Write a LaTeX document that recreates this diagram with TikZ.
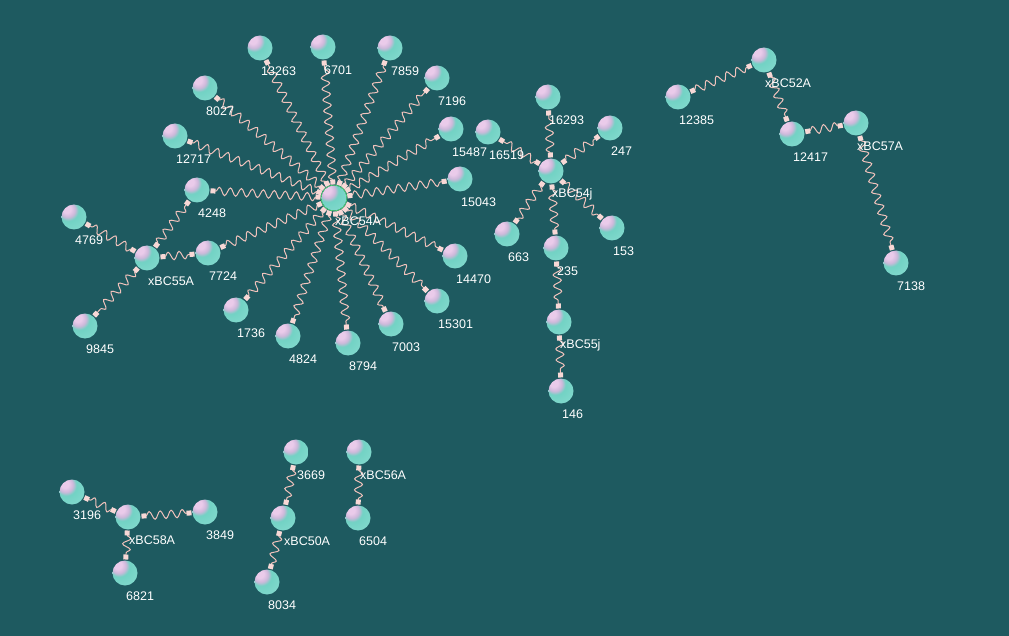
\documentclass[tikz,border=0pt]{standalone}
\usepackage{fontspec}
\setmainfont{Liberation Sans}
\usetikzlibrary{decorations.pathmorphing,decorations.markings,calc}
\definecolor{bgcol}{HTML}{1E5A60}
\definecolor{springcol}{HTML}{F0C2BC}
\definecolor{endcol}{HTML}{F8D8D6}
\definecolor{hlA}{HTML}{EACBEA}
\definecolor{hlB}{HTML}{CDB8DA}
\definecolor{bodyA}{HTML}{72D2C4}
\definecolor{bodyB}{HTML}{84DACE}
\definecolor{bodyC}{HTML}{C0F2EC}
\pgfdeclareradialshading{ballsh}{\pgfpoint{-16bp}{18bp}}{%
  color(0bp)=(hlA); color(8bp)=(hlA); color(15bp)=(hlB); color(21bp)=(bodyA);
  color(42bp)=(bodyB); color(68bp)=(bodyC); color(80bp)=(bodyC)}
\tikzset{
  sphere/.style={circle, minimum size=25pt, inner sep=0pt, outer sep=3.5pt, shading=ballsh},
  lab/.style={text=white, font=\fontsize{12.5}{14}\selectfont, inner sep=0pt, anchor=west},
  springline/.style={
    preaction={draw=springcol, line width=1pt, decorate,
      decoration={snake, segment length=11pt, amplitude=4pt, pre length=2pt, post length=2pt}},
    postaction={decorate, decoration={markings,
      mark=at position 0 with {\fill[endcol] (-2.5pt,-2.5pt) rectangle (2.5pt,2.5pt);},
      mark=at position 0.9999 with {\fill[endcol] (-2.5pt,-2.5pt) rectangle (2.5pt,2.5pt);}}}}
}
\newcommand\bn[4]{%
  \node[sphere] (#1) at (#2,#3) {};
}
\newcommand\bl[2]{%
  \node[lab] (#1-l) at ($(#1)+(1,23)$) {#2};
}
\newcommand\spr[2]{\path[springline] (#1) -- (#2);}
\begin{document}
\begin{tikzpicture}[x=1pt,y=-1pt]
\fill[bgcol] (0,0) rectangle (1009,636);
\useasboundingbox (0,0) rectangle (1009,636);
% balls
\bn{A54}{334}{198}{}
\bn{n13263}{260}{48}{}
\bn{n6701}{323}{47}{}
\bn{n7859}{390}{48}{}
\bn{n7196}{437}{78}{}
\bn{n8027}{205}{88}{}
\bn{n15487}{451}{129}{}
\bn{n12717}{175}{136}{}
\bn{n4248}{197}{190}{}
\bn{n15043}{460}{179}{}
\bn{n4769}{74}{217}{}
\bn{A55}{147}{258}{}
\bn{n7724}{208}{253}{}
\bn{n14470}{455}{256}{}
\bn{n9845}{85}{326}{}
\bn{n1736}{236}{310}{}
\bn{n4824}{288}{336}{}
\bn{n8794}{348}{343}{}
\bn{n7003}{391}{324}{}
\bn{n15301}{437}{301}{}
\bn{n16293}{548}{97}{}
\bn{n247}{610}{128}{}
\bn{n16519}{488}{132}{}
\bn{J54}{551}{171}{}
\bn{n663}{507}{234}{}
\bn{n153}{612}{228}{}
\bn{n235}{556}{248}{}
\bn{J55}{559}{322}{}
\bn{n146}{561}{391}{}
\bn{n12385}{678}{97}{}
\bn{A52}{764}{60}{}
\bn{n12417}{792}{134}{}
\bn{A57}{856}{123}{}
\bn{n7138}{896}{263}{}
\bn{n3196}{72}{492}{}
\bn{A58}{128}{517}{}
\bn{n3849}{205}{512}{}
\bn{n6821}{125}{573}{}
\bn{n3669}{296}{452}{}
\bn{A50}{283}{518}{}
\bn{n8034}{267}{582}{}
\bn{A56}{359}{452}{}
\bn{n6504}{358}{518}{}
\draw[green!60!teal!70, line width=0.6pt] (A54) circle (13pt);
% springs
\foreach \t in {n13263,n6701,n7859,n7196,n8027,n15487,n12717,n4248,n15043,n7724,n14470,n1736,n4824,n8794,n7003,n15301}
  {\spr{A54}{\t}}
\foreach \t in {n4769,n4248,n7724,n9845} {\spr{A55}{\t}}
\foreach \t in {n16293,n247,n16519,n663,n153,n235} {\spr{J54}{\t}}
\spr{n235}{J55}
\spr{J55}{n146}
\spr{n12385}{A52}
\spr{A52}{n12417}
\spr{n12417}{A57}
\spr{A57}{n7138}
\foreach \t in {n3196,n3849,n6821} {\spr{A58}{\t}}
\spr{n3669}{A50}
\spr{A50}{n8034}
\spr{A56}{n6504}
% labels
\bl{A54}{xBC54A}
\bl{n13263}{13263}
\bl{n6701}{6701}
\bl{n7859}{7859}
\bl{n7196}{7196}
\bl{n8027}{8027}
\bl{n15487}{15487}
\bl{n12717}{12717}
\bl{n4248}{4248}
\bl{n15043}{15043}
\bl{n4769}{4769}
\bl{A55}{xBC55A}
\bl{n7724}{7724}
\bl{n14470}{14470}
\bl{n9845}{9845}
\bl{n1736}{1736}
\bl{n4824}{4824}
\bl{n8794}{8794}
\bl{n7003}{7003}
\bl{n15301}{15301}
\bl{n16293}{16293}
\bl{n247}{247}
\bl{n16519}{16519}
\bl{J54}{xBC54j}
\bl{n663}{663}
\bl{n153}{153}
\bl{n235}{235}
\bl{J55}{xBC55j}
\bl{n146}{146}
\bl{n12385}{12385}
\bl{A52}{xBC52A}
\bl{n12417}{12417}
\bl{A57}{xBC57A}
\bl{n7138}{7138}
\bl{n3196}{3196}
\bl{A58}{xBC58A}
\bl{n3849}{3849}
\bl{n6821}{6821}
\bl{n3669}{3669}
\bl{A50}{xBC50A}
\bl{n8034}{8034}
\bl{A56}{xBC56A}
\bl{n6504}{6504}
\end{tikzpicture}
\end{document}
